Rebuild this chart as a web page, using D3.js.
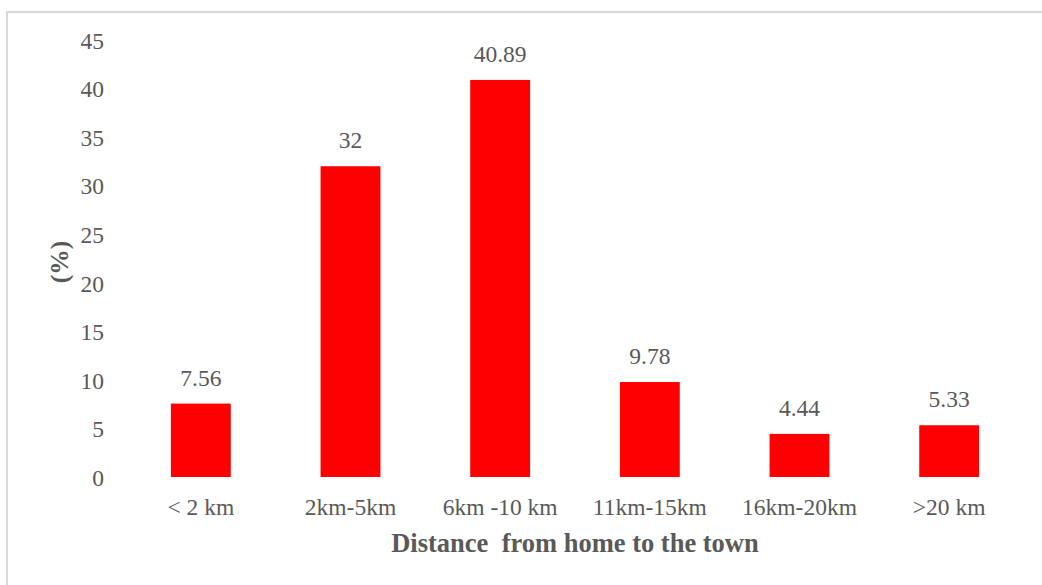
<!DOCTYPE html>
<html><head><meta charset="utf-8">
<script src="https://cdn.jsdelivr.net/npm/d3@7"></script>
<style>body{margin:0;background:#fff}svg{display:block}
svg text{font-family:"Liberation Serif","DejaVu Serif",serif !important;}</style>
</head><body><svg id="c" width="1042" height="585"></svg>
<script>
const categories = ["< 2 km","2km-5km","6km -10 km","11km-15km","16km-20km",">20 km"];
const values = [7.56, 32, 40.89, 9.78, 4.44, 5.33];
const valueLabels = ["7.56","32","40.89","9.78","4.44","5.33"];
const yTicks = [0,5,10,15,20,25,30,35,40,45];

const svg = d3.select("#c");
const grey = "#595959";
svg.append("rect").attr("x",7).attr("y",12).attr("width",1050).attr("height",600)
  .attr("fill","#fff").attr("stroke","#d9d9d9").attr("stroke-width",2);

const x = d3.scaleBand().domain(categories).range([126,1024]).paddingInner(0.6).paddingOuter(0.3);
const y = d3.scaleLinear().domain([0,45]).range([477,40]);

svg.selectAll("rect.bar").data(values).enter().append("rect").attr("class","bar")
  .attr("x",(d,i)=>x(categories[i])).attr("width",x.bandwidth())
  .attr("y",d=>y(d)).attr("height",d=>y(0)-y(d)).attr("fill","#ff0000");

svg.selectAll("text.val").data(values).enter().append("text").attr("class","val")
  .attr("x",(d,i)=>x(categories[i])+x.bandwidth()/2).attr("y",d=>y(d)-18)
  .attr("text-anchor","middle").attr("font-size",23.5).attr("fill",grey)
  .text((d,i)=>valueLabels[i]);

const ya = d3.axisLeft(y).tickValues(yTicks).tickSize(0).tickPadding(0);
const gy = svg.append("g").attr("transform","translate(104,0)").call(ya);
gy.select(".domain").remove();
gy.selectAll("text").attr("font-size",23.5).attr("fill",grey).attr("dy","0.35em");

const xa = d3.axisBottom(x).tickSize(0).tickPadding(0);
const gx = svg.append("g").attr("transform","translate(0,498)").call(xa);
gx.select(".domain").remove();
gx.selectAll("text").attr("font-size",23.5).attr("fill",grey).attr("dy","0.71em");

svg.append("text").attr("x",575).attr("y",552).attr("text-anchor","middle")
  .attr("font-size",26.5).attr("font-weight","bold").attr("fill",grey)
  .style("white-space","pre").text("Distance  from home to the town");

svg.append("text").attr("transform","translate(67.5,262) rotate(-90)").attr("text-anchor","middle")
  .attr("font-size",25.5).attr("font-weight","bold").attr("fill",grey)
  .text("(%)");
</script></body></html>
